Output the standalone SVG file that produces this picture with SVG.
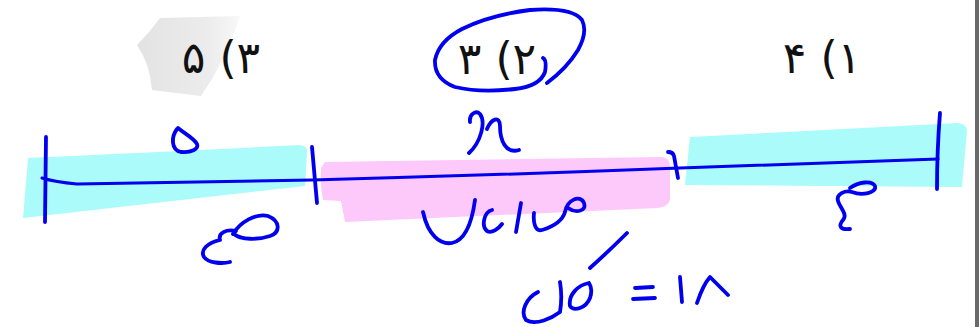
<svg xmlns="http://www.w3.org/2000/svg" width="979" height="327" viewBox="0 0 979 327">
<defs>
<linearGradient id="paper" x1="0" y1="0" x2="1" y2="0">
<stop offset="0" stop-color="#e3e3e3"/>
<stop offset="0.7" stop-color="#ececec"/>
<stop offset="1" stop-color="#f8f8f8"/>
</linearGradient>
<style>
.ink{fill:none;stroke:#0000ee;stroke-width:3.8;stroke-linecap:round;stroke-linejoin:round}
.line{fill:none;stroke:#0000ee;stroke-width:3;stroke-linecap:round;stroke-linejoin:round}
.cyan{fill:#abfbfb}
.pink{fill:#fdc8fa}
.opt{font-family:"DejaVu Sans","Noto Sans",sans-serif;font-size:44px;fill:#111;text-anchor:middle}
</style>
</defs>
<rect width="979" height="327" fill="#ffffff"/>
<rect x="975" y="0" width="4" height="327" fill="#6a6a6a"/>

<g id="paper-scrap">
<path d="M160,18 L240,16 Q226,60 201,96 L152,90 Q150,64 137,45 Q150,32 160,18 Z" fill="url(#paper)"/>
</g>

<g id="options">
<text id="opt3" class="opt" x="221" y="73" direction="rtl">۳) ۵</text>
<text id="opt2" class="opt" x="497" y="74" direction="rtl">۲) ۳</text>
<text id="opt1" class="opt" x="822" y="73" direction="rtl">۱) ۴</text>
</g>

<g id="highlights">
<path class="cyan" d="M28,158 L180,151 L300,145 Q308,146 307,152 L305,186 L23,218 Z"/>
<path class="pink" d="M325,162 L662,157 Q670,158 670,166 L670,200 Q668,207 657,208 L345,222 L341,201 L323,200 Q320,185 321,168 Z"/>
<path class="cyan" d="M690,137 L958,123 Q967,124 967,131 L962,187 L685,185 Z"/>
</g>

<g id="connectors">
<path class="line" d="M42,178 Q55,182 77,184 L312,180 Q500,175 680,168 L938,159"/>
<path class="ink" d="M46,137 L45,222"/>
<path class="ink" d="M312,147 L317,203"/>
<path class="ink" d="M668,152 Q673,152 674,156 L678,178"/>
<path class="ink" d="M940,113 Q937,150 937,189"/>
</g>

<g id="circle-answer">
<path class="ink" d="M543,58 Q547,60 545,72 Q540,86 515,89 Q480,93 455,87 Q434,79 435,60 Q439,41 462,29 Q490,15 530,10 Q572,7 582,20 Q588,32 578,50 Q567,68 547,83"/>
</g>

<g id="handwriting">
<path id="hw-5" class="ink" d="M177,129 C171,137 171,150 181,152 C191,153 199,149 197,144 C194,138 185,134 178,128"/>
<path id="hw-left-bottom" class="ink" d="M233,234 C240,222 256,213 268,216 C280,221 281,232 270,236 C258,240 241,240 234,234 M236,231 C226,229 218,233 220,240 C207,243 200,250 204,257 C208,263 222,264 230,262"/>
<path id="hw-x" class="ink" d="M470,122 C469,114 476,110 480,114 C486,122 481,142 469,153 M487,129 C491,119 500,115 500,126 C500,141 506,154 519,150"/>
<path id="hw-mid-bottom" class="ink" d="M423,212 C428,235 440,245 452,243 C466,240 472,222 475,200 M492,210 C484,212 481,226 487,231 C492,234 499,228 502,224 M521,203 L516,232 M534,213 C533,222 535,232 542,230 C552,227 562,222 565,212 C567,200 580,194 584,203 C587,212 575,213 568,208"/>
<path id="hw-right-bottom" class="ink" d="M850,188 C858,182 872,180 875,186 C877,193 862,196 852,192 C845,190 836,194 838,201 C840,208 848,214 843,220 C838,226 840,230 850,229"/>
<path id="hw-total" class="ink" d="M627,233 Q610,250 590,268 M538,292 C526,298 520,312 526,320 C536,326 552,318 560,312 C562,300 561,288 560,282 M589,283 C578,285 568,295 570,306 C574,312 586,308 590,298 C592,292 591,286 589,283 M635,288 L653,287 M633,299 L655,298 M680,277 L682,302 M697,303 Q703,285 710,277 Q718,285 728,295"/>
</g>
</svg>
